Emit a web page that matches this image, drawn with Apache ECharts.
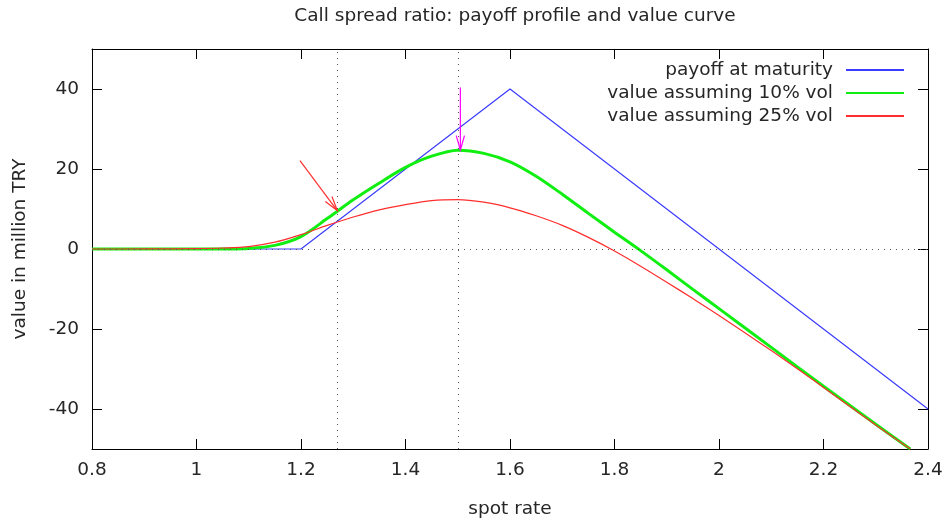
<!DOCTYPE html>
<html>
<head>
<meta charset="utf-8">
<script src="https://cdn.jsdelivr.net/npm/echarts@6/dist/echarts.min.js"></script>
<style>
html,body{margin:0;padding:0;background:#fff;}
#chart{width:951px;height:522px;}
</style>
</head>
<body>
<div id="chart"></div>
<script>
// ---- data ----
const titleText = 'Call spread ratio: payoff profile and value curve';
const xName = 'spot rate';
const yName = 'value in million TRY';
const seriesNames = ['payoff at maturity', 'value assuming 10% vol', 'value assuming 25% vol'];

const xTicks = [0.8, 1.0, 1.2, 1.4, 1.6, 1.8, 2.0, 2.2, 2.4];
const yTicks = [-40, -20, 0, 20, 40];

const payoffX = [0.8, 1.2, 1.6, 2.4];
const payoffY = [0, 0, 40, -40];

const curveX   = [0.8, 0.9, 1.0, 1.05, 1.1, 1.15, 1.2, 1.25, 1.3, 1.35, 1.4, 1.45, 1.5, 1.55, 1.6, 1.65, 1.7, 1.75, 1.8, 1.85, 1.9, 1.95, 2.0, 2.1, 2.2, 2.3, 2.366];
const vol10Y   = [0, 0, 0, 0.02, 0.15, 0.9, 3.1, 7.6, 12.3, 16.5, 20.4, 23.2, 24.7, 23.9, 21.8, 18.2, 13.7, 8.9, 4.2, -0.4, -5.2, -10.1, -14.9, -24.6, -34.3, -43.8, -50];
const vol25Y   = [0, 0.01, 0.1, 0.25, 0.6, 1.7, 3.6, 5.9, 8.0, 9.8, 11.1, 12.1, 12.35, 11.7, 10.3, 8.3, 5.9, 2.9, -0.5, -4.3, -8.3, -12.4, -16.6, -25.4, -34.6, -44.0, -50];

const refLinesX = [1.27, 1.505];
const refLinesY = [0];

const redArrow = [1.198, 22.1, 1.2694, 9.6];
const magentaArrow = [1.505, 40.4, 1.505, 24.75];

// ---- chart ----
const FONT = 'DejaVu Sans';
const TXT = '#262626';
const FS = 18.5;

function zip(xs, ys) { return xs.map((x, i) => [x, ys[i]]); }

function arrowRender(color) {
  return function (params, api) {
    const p1 = api.coord([api.value(0), api.value(1)]);
    const p2 = api.coord([api.value(2), api.value(3)]);
    const ang = Math.atan2(p2[1] - p1[1], p2[0] - p1[0]);
    const L = 15, a = 16 * Math.PI / 180;
    const h1 = [p2[0] - L * Math.cos(ang - a), p2[1] - L * Math.sin(ang - a)];
    const h2 = [p2[0] - L * Math.cos(ang + a), p2[1] - L * Math.sin(ang + a)];
    return {
      type: 'group',
      children: [
        { type: 'line', shape: { x1: p1[0], y1: p1[1], x2: p2[0], y2: p2[1] }, style: { stroke: color, lineWidth: 1.2 } },
        { type: 'polyline', shape: { points: [h1, p2, h2] }, style: { stroke: color, lineWidth: 1.2, fill: null } }
      ]
    };
  };
}

const chart = echarts.init(document.getElementById('chart'), null, { renderer: 'canvas' });
const axisLineStyle = { color: '#000', width: 1 };
chart.setOption({
  animation: false,
  backgroundColor: '#fff',
  title: {
    text: titleText,
    left: 510,
    top: 2,
    textAlign: 'center',
    textStyle: { fontFamily: FONT, fontSize: FS, fontWeight: 'normal', color: TXT }
  },
  legend: {
    orient: 'vertical',
    right: 41,
    top: 55,
    align: 'right',
    itemWidth: 58,
    itemHeight: 10,
    itemGap: 3,
    selectedMode: false,
    itemStyle: { opacity: 0 },
    textStyle: { fontFamily: FONT, fontSize: FS, color: TXT, lineHeight: 20, padding: [0, 8, 0, 0] },
    data: seriesNames
  },
  grid: { left: 92, right: 23, top: 49, bottom: 73, containLabel: false, outerBoundsMode: 'none' },
  xAxis: [{
    type: 'value', min: 0.8, max: 2.4, interval: 0.2,
    name: xName, nameLocation: 'middle', nameGap: 51,
    nameTextStyle: { fontFamily: FONT, fontSize: FS, color: TXT },
    axisLine: { show: true, onZero: false, lineStyle: axisLineStyle },
    axisTick: { show: true, inside: true, length: 10, lineStyle: axisLineStyle },
    axisLabel: { fontFamily: FONT, fontSize: FS, color: TXT, margin: 12, customValues: xTicks },
    splitLine: { show: false }
  }, {
    type: 'value', min: 0.8, max: 2.4, interval: 0.2, position: 'top',
    axisLine: { show: true, onZero: false, lineStyle: axisLineStyle },
    axisTick: { show: true, inside: true, length: 10, lineStyle: axisLineStyle },
    axisLabel: { show: false },
    splitLine: { show: false }
  }],
  yAxis: [{
    type: 'value', min: -50, max: 50,
    name: yName, nameLocation: 'middle', nameGap: 62, nameRotate: 90,
    nameTextStyle: { fontFamily: FONT, fontSize: FS, color: TXT },
    axisLine: { show: true, onZero: false, lineStyle: axisLineStyle },
    axisTick: { show: true, inside: true, length: 10, lineStyle: axisLineStyle, customValues: yTicks },
    axisLabel: { fontFamily: FONT, fontSize: FS, color: TXT, margin: 13, customValues: yTicks },
    splitLine: { show: false }
  }, {
    type: 'value', min: -50, max: 50, position: 'right',
    axisLine: { show: true, onZero: false, lineStyle: axisLineStyle },
    axisTick: { show: true, inside: true, length: 10, lineStyle: axisLineStyle, customValues: yTicks },
    axisLabel: { show: false },
    splitLine: { show: false }
  }],
  series: [
    {
      name: seriesNames[0], type: 'line', data: zip(payoffX, payoffY),
      symbol: 'none', color: '#3c3cff', lineStyle: { width: 1.2, color: '#3c3cff' },
      markLine: {
        silent: true, symbol: ['none', 'none'], label: { show: false },
        lineStyle: { type: [1, 5], color: '#555', width: 1 },
        data: refLinesX.map(v => ({ xAxis: v })).concat(refLinesY.map(v => ({ yAxis: v })))
      }
    },
    {
      name: seriesNames[1], type: 'line', data: zip(curveX, vol10Y), smooth: 0.3,
      symbol: 'none', color: '#11ee11', lineStyle: { width: 3, color: '#11ee11' }
    },
    {
      name: seriesNames[2], type: 'line', data: zip(curveX, vol25Y), smooth: 0.3,
      symbol: 'none', color: '#ff2e2e', lineStyle: { width: 1.2, color: '#ff2e2e' }
    },
    { type: 'custom', renderItem: arrowRender('#ff3030'), data: [redArrow], silent: true, z: 5 },
    { type: 'custom', renderItem: arrowRender('#ff00ff'), data: [magentaArrow], silent: true, z: 5 }
  ]
});
</script>
</body>
</html>
